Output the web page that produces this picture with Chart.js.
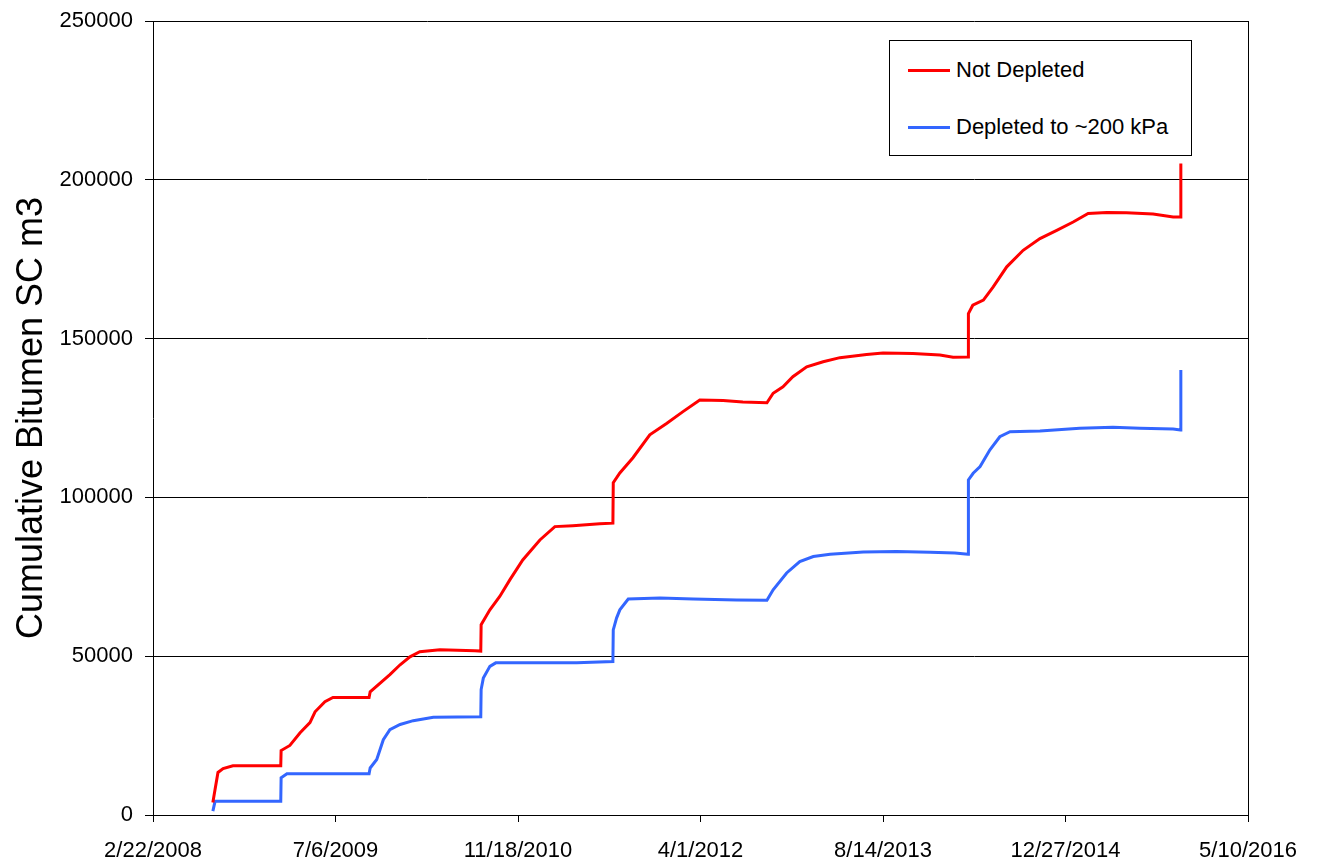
<!DOCTYPE html>
<html>
<head>
<meta charset="utf-8">
<script src="https://cdn.jsdelivr.net/npm/chart.js@4.4.1/dist/chart.umd.min.js"></script>
<style>
  html, body { margin: 0; padding: 0; background: #fff; }
  #wrap { position: relative; width: 1320px; height: 862px; }
  #legend {
    position: absolute; left: 889px; top: 40px; width: 301px; height: 114px;
    border: 1px solid #000; background: #fff;
    font-family: "Liberation Sans", Arial, sans-serif; font-size: 22px; color: #000;
  }
  .item { position: absolute; left: 18px; height: 26px; line-height: 26px; white-space: nowrap; }
  .item .sw { display: inline-block; width: 42px; height: 3px; vertical-align: middle; margin-right: 6px; position: relative; top: -1px; }
</style>
</head>
<body>
<div id="wrap">
  <canvas id="c" width="1320" height="862"></canvas>
  <div id="legend">
    <div class="item" style="top:16px"><span class="sw" style="background:#FF0000"></span>Not Depleted</div>
    <div class="item" style="top:73px"><span class="sw" style="background:#3366FF"></span>Depleted to ~200 kPa</div>
  </div>
</div>
<script>
// ---- data ----
const notDepletedDates = [
  "2008-08-04","2008-08-10","2008-08-18","2008-09-01","2008-09-28","2009-02-06",
  "2009-02-07","2009-03-03","2009-03-31","2009-04-27","2009-05-11","2009-06-07","2009-06-29",
  "2009-10-06","2009-10-09","2009-12-02","2009-12-30","2010-01-26","2010-02-22","2010-04-18",
  "2010-07-23","2010-08-08","2010-08-09","2010-09-02","2010-09-29","2010-10-27","2010-12-01",
  "2011-01-17","2011-02-27","2011-04-17","2011-06-30","2011-08-05","2011-08-06","2011-08-24",
  "2011-09-29","2011-11-14","2011-12-30","2012-02-13","2012-03-30","2012-06-02","2012-07-26",
  "2012-09-30","2012-10-17","2012-11-13","2012-12-10","2013-01-17","2013-03-03","2013-04-18",
  "2013-06-30","2013-08-14","2013-11-04","2014-01-17","2014-02-22","2014-04-04","2014-04-05",
  "2014-04-17","2014-05-16","2014-06-12","2014-07-19","2014-09-02","2014-10-18","2014-12-03",
  "2015-01-17","2015-02-27","2015-04-19","2015-06-12","2015-08-24","2015-10-18","2015-11-07",
  "2015-11-08"
];
const notDepletedValues = [
  3900, 8000, 13400, 14600, 15500, 15500,
  20300, 21900, 25900, 29100, 32500, 35700, 37000,
  37000, 38800, 44200, 47300, 49800, 51400, 52000,
  51700, 51600, 59900, 64600, 68800, 74100, 80300,
  86600, 90800, 91100, 91700, 91900, 104600, 107700,
  112500, 119700, 123300, 127000, 130700, 130500, 130000,
  129800, 132800, 134800, 138000, 141100, 142700, 144000,
  145000, 145500, 145300, 144800, 144100, 144200, 157900,
  160500, 162100, 166300, 172600, 177800, 181500, 184100,
  186700, 189400, 189700, 189600, 189200, 188300, 188300,
  205100
];
const depletedDates = [
  "2008-08-04","2008-08-10","2009-02-06","2009-02-07","2009-02-23","2009-10-06",
  "2009-10-09","2009-10-27","2009-11-14","2009-12-02","2009-12-30","2010-02-04","2010-03-31",
  "2010-08-08","2010-08-09","2010-08-15","2010-09-02","2010-09-18","2010-12-21","2011-04-28",
  "2011-08-05","2011-08-06","2011-08-15","2011-08-24","2011-09-16","2011-12-12","2012-03-12",
  "2012-07-09","2012-09-30","2012-10-17","2012-11-23","2012-12-29","2013-02-04","2013-03-22",
  "2013-06-21","2013-09-20","2013-12-21","2014-02-27","2014-04-04","2014-04-05","2014-04-18",
  "2014-05-07","2014-06-03","2014-06-30","2014-07-28","2014-10-18","2015-02-04","2015-05-06",
  "2015-07-19","2015-10-18","2015-11-07","2015-11-08"
];
const depletedValues = [
  1200, 4300, 4300, 11700, 13000, 13000,
  14800, 17500, 23700, 26900, 28500, 29700, 30800,
  30900, 39500, 43100, 46800, 47900, 47900, 47900,
  48300, 58300, 62000, 64600, 68000, 68300, 68000,
  67700, 67600, 70900, 76200, 79800, 81400, 82100,
  82800, 83000, 82700, 82500, 82100, 105500, 107600,
  109700, 115000, 119100, 120700, 120900, 121800, 122100,
  121800, 121500, 121200, 140100
];
const seriesNames = ["Not Depleted", "Depleted to ~200 kPa"];
const axisStartDate = "2008-02-22";
const xTickStepDays = 500;
const xTickCount = 6;          // 2/22/2008 ... 5/10/2016
const yTickValues = [0, 50000, 100000, 150000, 200000, 250000];

// ---- helpers ----
const DAY = 86400000;
function parseISO(s) { const p = s.split("-").map(Number); return Date.UTC(p[0], p[1] - 1, p[2]); }
const base = parseISO(axisStartDate);
function toDays(s) { return Math.round((parseISO(s) - base) / DAY); }
function fmtDate(days) {
  const d = new Date(base + days * DAY);
  return (d.getUTCMonth() + 1) + "/" + d.getUTCDate() + "/" + d.getUTCFullYear();
}
const ptsA = notDepletedDates.map((s, i) => ({ x: toDays(s), y: notDepletedValues[i] }));
const ptsB = depletedDates.map((s, i) => ({ x: toDays(s), y: depletedValues[i] }));

const FONT = "'Liberation Sans', Arial, sans-serif";
const xMax = xTickStepDays * xTickCount;

new Chart(document.getElementById("c"), {
  type: "line",
  data: {
    datasets: [
      { label: seriesNames[0], data: ptsA, borderColor: "#FF0000", backgroundColor: "#FF0000",
        borderWidth: 3, pointRadius: 0, tension: 0, fill: false },
      { label: seriesNames[1], data: ptsB, borderColor: "#3366FF", backgroundColor: "#3366FF",
        borderWidth: 3, pointRadius: 0, tension: 0, fill: false }
    ]
  },
  options: {
    responsive: false,
    animation: false,
    events: [],
    layout: { padding: { top: 21, right: 72, left: 0, bottom: 0 } },
    plugins: { legend: { display: false }, tooltip: { enabled: false } },
    scales: {
      x: {
        type: "linear", position: "bottom",
        min: 0, max: xMax,
        afterFit: (s) => { s.height = 47; },
        ticks: {
          stepSize: xTickStepDays, autoSkip: false, maxRotation: 0,
          color: "#000", font: { family: FONT, size: 22 }, padding: 16,
          callback: (v) => fmtDate(v)
        },
        grid: {
          drawOnChartArea: true, tickLength: 7, lineWidth: 1, tickColor: "#000",
          color: (ctx) => (ctx.tick && ctx.tick.value === xMax) ? "#000" : "rgba(0,0,0,0)"
        },
        border: { display: true, color: "#000", width: 1 }
      },
      y: {
        min: 0, max: yTickValues[yTickValues.length - 1],
        afterFit: (s) => { s.width = 153; s.paddingTop = 0; s.paddingBottom = 0; },
        afterBuildTicks: (s) => { s.ticks = yTickValues.map(v => ({ value: v })); },
        ticks: {
          color: "#000", font: { family: FONT, size: 22 }, padding: 12,
          callback: (v) => String(v)
        },
        grid: { color: "#000", lineWidth: 1, tickLength: 8, tickColor: "#000" },
        border: { display: true, color: "#000", width: 1 },
        title: {
          display: true, text: "Cumulative Bitumen SC m3", color: "#000",
          font: { family: FONT, size: 36 }, padding: { top: 10, bottom: 0 }
        }
      }
    }
  }
});
</script>
</body>
</html>
